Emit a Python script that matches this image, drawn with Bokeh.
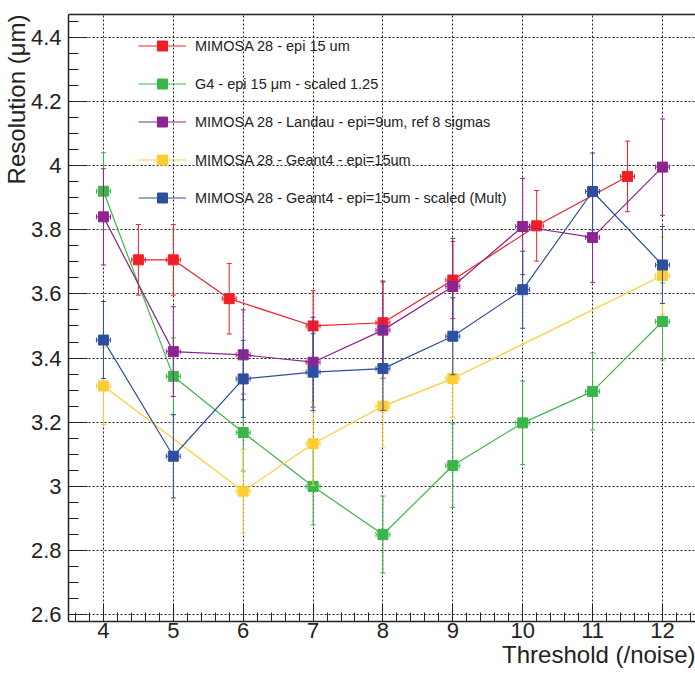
from bokeh.plotting import figure
from bokeh.models import (Range1d, FixedTicker, CustomJSTickFormatter, Title,
                          ColumnDataSource, Legend, LegendItem, LinearAxis)
from bokeh.embed import file_html
from bokeh.resources import INLINE
from math import pi

# ---------------- data ----------------
x_red = [4.5, 5, 5.8, 7, 8, 9, 10.2, 11.5]
y_red = [3.706, 3.706, 3.585, 3.50, 3.51, 3.643, 3.812, 3.966]
e_red = [0.11, 0.11, 0.11, 0.11, 0.13, 0.12, 0.11, 0.11]

x_green = [4, 5, 6, 7, 8, 9, 10, 11, 12]
y_green = [3.92, 3.343, 3.168, 3.0, 2.85, 3.065, 3.198, 3.296, 3.514]
e_green = [0.12, 0.12, 0.12, 0.12, 0.12, 0.13, 0.13, 0.12, 0.12]

x_purple = [4, 5, 6, 7, 8, 9, 10, 11, 12]
y_purple = [3.84, 3.42, 3.41, 3.387, 3.487, 3.623, 3.81, 3.776, 3.995]
e_purple = [0.15, 0.14, 0.14, 0.14, 0.15, 0.15, 0.15, 0.14, 0.15]

x_yellow = [4, 6, 7, 8, 9, 12]
y_yellow = [3.313, 2.985, 3.133, 3.25, 3.336, 3.657]
e_yellow = [0.12, 0.13, 0.13, 0.13, 0.12, 0.12]

x_blue = [4, 5, 6, 7, 8, 9, 10, 11, 12]
y_blue = [3.456, 3.094, 3.335, 3.356, 3.367, 3.468, 3.613, 3.919, 3.69]
e_blue = [0.12, 0.13, 0.12, 0.12, 0.13, 0.12, 0.12, 0.12, 0.12]

x_err = 0.1

labels = ["MIMOSA 28 - epi 15 um",
          "G4 - epi 15 \u03bcm - scaled 1.25",
          "MIMOSA 28 - Landau - epi=9um, ref 8 sigmas",
          "MIMOSA 28 - Geant4 - epi=15um",
          "MIMOSA 28 - Geant4 - epi=15um - scaled (Mult)"]
colors = ["#ee2026", "#3cb64a", "#8e2490", "#ffcc33", "#2c4f9f"]

x_title = "Threshold (/noise)"
y_title = "Resolution (\u03bcm)"

x_ticks = [4, 5, 6, 7, 8, 9, 10, 11, 12]
y_ticks = [2.6, 2.8, 3.0, 3.2, 3.4, 3.6, 3.8, 4.0, 4.2, 4.4]

FONT = "Liberation Sans"

p = figure(width=695, height=673, output_backend="svg", toolbar_location=None,
           x_range=Range1d(3.5, 12.473), y_range=Range1d(2.579, 4.4706),
           min_border_left=68, min_border_right=0, min_border_top=14, min_border_bottom=52)
p.outline_line_color = None
p.background_fill_color = "white"

# axes
x_minor = [round(3.6 + 0.2 * i, 2) for i in range(45)]
y_minor = [round(2.55 + 0.05 * i, 2) for i in range(40)]
p.xaxis.ticker = FixedTicker(ticks=x_ticks, minor_ticks=x_minor)
p.yaxis.ticker = FixedTicker(ticks=y_ticks, minor_ticks=y_minor)
p.yaxis.formatter = CustomJSTickFormatter(code="return (Math.round(tick*10)/10).toString();")
for ax in (p.xaxis[0], p.yaxis[0]):
    ax.axis_line_color = "#222222"
    ax.axis_line_width = 1.5
    ax.major_tick_out = 0
    ax.minor_tick_out = 0
    ax.major_tick_line_color = "#222222"
    ax.minor_tick_line_color = "#222222"
    ax.major_label_text_font = FONT
    ax.major_label_text_font_size = "22px"
    ax.major_label_text_color = "#222222"
p.yaxis.major_tick_in = 19
p.yaxis.minor_tick_in = 10
p.xaxis.major_tick_in = 18
p.xaxis.minor_tick_in = 9
p.yaxis.major_label_standoff = 7
p.xaxis.major_label_standoff = 1

top = LinearAxis(major_tick_in=0, major_tick_out=0, minor_tick_in=0, minor_tick_out=0,
                 major_label_text_font_size="0px", axis_line_color="#222222", axis_line_width=1.5)
top.ticker = FixedTicker(ticks=[])
p.add_layout(top, "above")

# axis titles as side-panel titles (right aligned like ROOT)
def make_title(txt):
    t = Title(text=txt, align="right", text_font=FONT, text_font_size="24px",
              text_font_style="normal", text_color="#222222", standoff=0, offset=0)
    try:
        t.standoff = -4
    except Exception:
        pass
    return t

p.add_layout(make_title(x_title), "below")
p.add_layout(make_title(y_title), "left")

p.grid.grid_line_color = "#222222"
p.grid.grid_line_dash = "2 2"
p.grid.grid_line_width = 1
p.xgrid.ticker = FixedTicker(ticks=x_ticks)
p.ygrid.ticker = FixedTicker(ticks=y_ticks)

series = [(x_red, y_red, e_red), (x_green, y_green, e_green), (x_purple, y_purple, e_purple),
          (x_yellow, y_yellow, e_yellow), (x_blue, y_blue, e_blue)]

items = []
for (xs, ys, es), col, lab in zip(series, colors, labels):
    src = ColumnDataSource(dict(x=xs, y=ys,
                                lo=[y - e for y, e in zip(ys, es)],
                                hi=[y + e for y, e in zip(ys, es)],
                                xl=[x - x_err for x in xs],
                                xh=[x + x_err for x in xs]))
    # vertical error bars + caps
    p.segment(x0="x", y0="lo", x1="x", y1="hi", source=src, line_color=col, line_width=1)
    p.scatter("x", "lo", source=src, marker="dash", size=5, line_color=col, line_width=1)
    p.scatter("x", "hi", source=src, marker="dash", size=5, line_color=col, line_width=1)
    # horizontal error bars + caps
    p.segment(x0="xl", y0="y", x1="xh", y1="y", source=src, line_color=col, line_width=1)
    p.scatter("xl", "y", source=src, marker="dash", angle=pi / 2, size=5, line_color=col, line_width=1)
    p.scatter("xh", "y", source=src, marker="dash", angle=pi / 2, size=5, line_color=col, line_width=1)
    lr = p.line("x", "y", source=src, line_color=col, line_width=1.2)
    sr = p.scatter("x", "y", source=src, marker="square", size=10,
                   fill_color=col, line_color=col)
    items.append(LegendItem(label=lab, renderers=[lr, sr]))

legend = Legend(items=items, location=(70, 411), padding=0, margin=0,
                glyph_width=48, glyph_height=25, label_height=25, spacing=13,
                label_standoff=9, label_text_font=FONT, label_text_font_size="14.5px",
                label_text_color="#222222",
                border_line_color=None, background_fill_alpha=0)
p.add_layout(legend, "center")

open("out.html", "w").write(file_html(p, INLINE))
